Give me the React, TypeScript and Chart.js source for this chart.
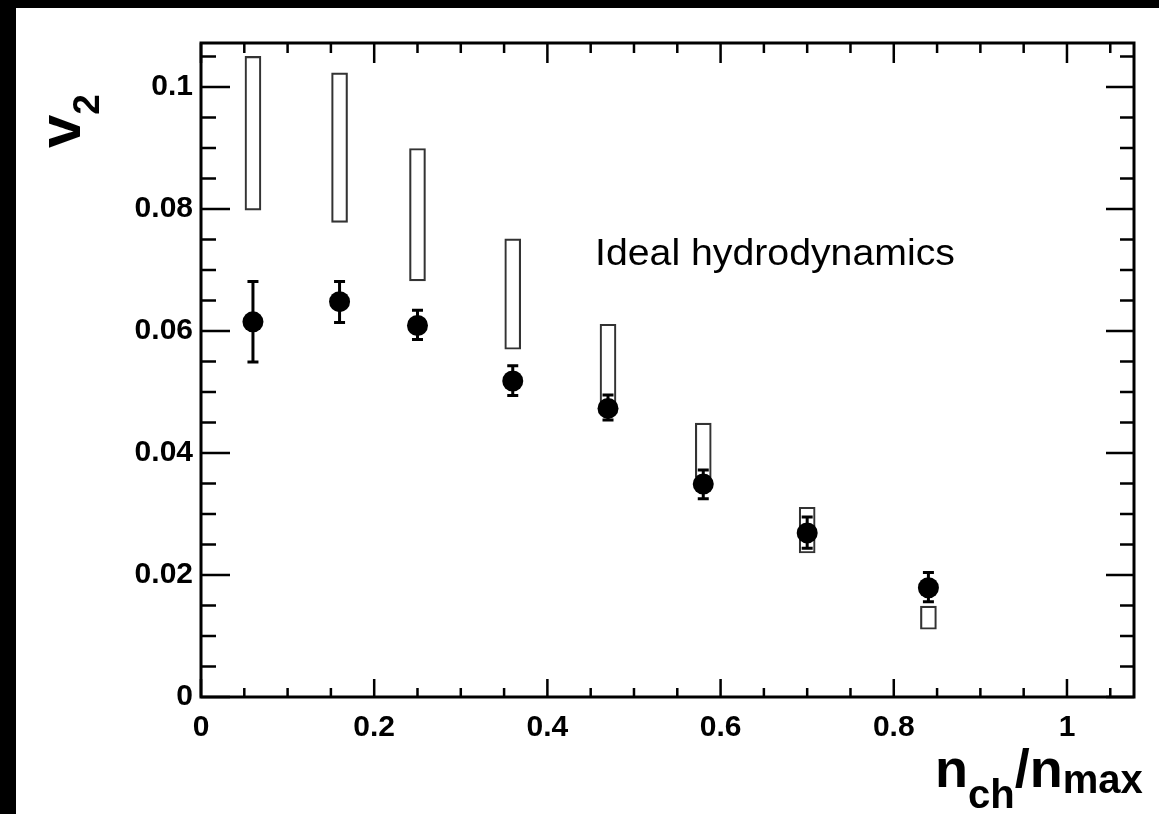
import React, { useEffect, useRef } from 'react';
import { Chart, registerables } from 'chart.js';

Chart.register(...registerables);

// ---- data ----
const nchOverNmax = [0.06, 0.16, 0.25, 0.36, 0.47, 0.58, 0.70, 0.84];
const v2Measured = [0.0615, 0.0648, 0.0609, 0.0518, 0.0473, 0.0349, 0.0269, 0.0179];
const v2ErrLow = [0.0549, 0.0614, 0.0586, 0.0494, 0.0454, 0.0325, 0.0244, 0.0156];
const v2ErrHigh = [0.0681, 0.0681, 0.0634, 0.0543, 0.0495, 0.0372, 0.0295, 0.0204];
const hydroLow = [0.0798, 0.0778, 0.0682, 0.0570, 0.0480, 0.0360, 0.0236, 0.0111];
const hydroHigh = [0.1050, 0.1023, 0.0899, 0.0751, 0.0611, 0.0449, 0.0311, 0.0149];

const xTickValues = [0, 0.2, 0.4, 0.6, 0.8, 1];
const xTickLabels = ['0', '0.2', '0.4', '0.6', '0.8', '1'];
const yTickValues = [0, 0.02, 0.04, 0.06, 0.08, 0.1];
const yTickLabels = ['0', '0.02', '0.04', '0.06', '0.08', '0.1'];
const xMinorStep = 0.05;
const yMinorStep = 0.005;
const xMax = 1.0774;
const yMax = 0.1072;

const annotationText = 'Ideal hydrodynamics';
const annotationX = 0.455;
const annotationY = 0.0708;

const tickFont = { family: '"Liberation Sans", Arial, sans-serif', size: 30, weight: 'bold' as const };

const backgroundPlugin = {
  id: 'pageBackground',
  beforeDraw(chart: any) {
    const { ctx, width, height } = chart;
    ctx.save();
    ctx.fillStyle = '#ffffff';
    ctx.fillRect(0, 0, width, height);
    ctx.fillStyle = '#000000';
    ctx.fillRect(0, 0, width, 8);
    ctx.fillRect(0, 0, 16, height);
    ctx.restore();
  },
};

const errorBarPlugin = {
  id: 'errorBars',
  afterDatasetsDraw(chart: any) {
    const { ctx, scales } = chart;
    const xs = scales.x;
    const ys = scales.y;
    ctx.save();
    ctx.strokeStyle = '#000';
    ctx.lineWidth = 3;
    nchOverNmax.forEach((xv, i) => {
      const px = xs.getPixelForValue(xv);
      const lo = ys.getPixelForValue(v2ErrLow[i]);
      const hi = ys.getPixelForValue(v2ErrHigh[i]);
      ctx.beginPath();
      ctx.moveTo(px, lo);
      ctx.lineTo(px, hi);
      ctx.moveTo(px - 5.5, lo);
      ctx.lineTo(px + 5.5, lo);
      ctx.moveTo(px - 5.5, hi);
      ctx.lineTo(px + 5.5, hi);
      ctx.stroke();
    });
    ctx.restore();
  },
};

const framePlugin = {
  id: 'rootFrame',
  afterDraw(chart: any) {
    const { ctx, chartArea, scales } = chart;
    const { left, right, top, bottom } = chartArea;
    const xs = scales.x;
    const ys = scales.y;
    ctx.save();
    ctx.strokeStyle = '#000';
    ctx.lineWidth = 2.5;
    ctx.beginPath();
    for (let i = 0; i * xMinorStep <= xMax + 1e-9; i++) {
      const v = i * xMinorStep;
      const px = xs.getPixelForValue(v);
      const major = i % 4 === 0;
      ctx.moveTo(px, bottom);
      ctx.lineTo(px, bottom - (major ? 18 : 9));
      ctx.moveTo(px, top);
      ctx.lineTo(px, top + (major ? 20 : 10));
    }
    for (let i = 0; i * yMinorStep <= yMax + 1e-9; i++) {
      const v = i * yMinorStep;
      const py = ys.getPixelForValue(v);
      const major = i % 4 === 0;
      ctx.moveTo(left, py);
      ctx.lineTo(left + (major ? 29 : 15), py);
      ctx.moveTo(right, py);
      ctx.lineTo(right - (major ? 28 : 14), py);
    }
    ctx.stroke();
    ctx.lineWidth = 3;
    ctx.strokeRect(left, top, right - left, bottom - top);

    // annotation
    ctx.fillStyle = '#000';
    ctx.textBaseline = 'alphabetic';
    ctx.textAlign = 'left';
    const ax = xs.getPixelForValue(annotationX);
    const ay = ys.getPixelForValue(annotationY);
    ctx.save();
    ctx.translate(ax, ay);
    ctx.scale(1.09, 1);
    ctx.font = '36px "Liberation Sans", Arial, sans-serif';
    ctx.fillText(annotationText, 0, 0);
    ctx.restore();

    // y title: v_2 (rotated)
    ctx.save();
    ctx.translate(80, 148);
    ctx.rotate(-Math.PI / 2);
    ctx.font = 'bold 60px "Liberation Sans", Arial, sans-serif';
    ctx.fillText('v', 0, 0);
    const vw = ctx.measureText('v').width;
    ctx.font = 'bold 37px "Liberation Sans", Arial, sans-serif';
    ctx.fillText('2', vw, 19);
    ctx.restore();

    // x title: n_ch / n_max
    const big = 'bold 54px "Liberation Sans", Arial, sans-serif';
    const small = 'bold 40px "Liberation Sans", Arial, sans-serif';
    let cx = 935;
    const parts: [string, string, number][] = [
      ['n', big, 787],
      ['ch', small, 808],
      ['/', big, 787],
      ['n', big, 787],
      ['max', small, 793],
    ];
    parts.forEach(([t, f, by]) => {
      ctx.font = f;
      ctx.fillText(t, cx, by);
      cx += ctx.measureText(t).width;
    });
    ctx.restore();
  },
};

export default function App() {
  const canvasRef = useRef<HTMLCanvasElement | null>(null);

  useEffect(() => {
    const canvas = canvasRef.current;
    if (!canvas) return;
    const chart = new Chart(canvas, {
      type: 'scatter',
      data: {
        datasets: [
          {
            type: 'bar',
            label: 'Ideal hydrodynamics',
            data: nchOverNmax.map((x, i) => ({ x, y: [hydroLow[i], hydroHigh[i]] })) as any,
            barThickness: 16,
            borderWidth: 1.5,
            borderColor: '#333333',
            backgroundColor: 'rgba(255,255,255,0)',
            borderSkipped: false,
            order: 2,
          } as any,
          {
            type: 'scatter',
            label: 'v2',
            data: nchOverNmax.map((x, i) => ({ x, y: v2Measured[i] })),
            pointRadius: 10.5,
            pointBackgroundColor: '#000',
            pointBorderColor: '#000',
            pointBorderWidth: 0,
            showLine: false,
            order: 1,
          } as any,
        ],
      },
      options: {
        animation: false,
        responsive: false,
        events: [],
        layout: { padding: { top: 43, right: 25, left: 0, bottom: 0 } },
        plugins: { legend: { display: false }, tooltip: { enabled: false } },
        scales: {
          x: {
            type: 'linear',
            min: 0,
            max: xMax,
            offset: false,
            grid: { display: false, drawTicks: false },
            border: { display: false },
            afterBuildTicks: (s: any) => {
              s.ticks = xTickValues.map((v) => ({ value: v }));
            },
            afterFit: (s: any) => {
              s.height = 117;
            },
            ticks: {
              padding: 13,
              color: '#000',
              font: tickFont,
              maxRotation: 0,
              autoSkip: false,
              callback: (value: any) => {
                const i = xTickValues.findIndex((t) => Math.abs(t - Number(value)) < 1e-9);
                return i >= 0 ? xTickLabels[i] : '';
              },
            },
          },
          y: {
            type: 'linear',
            min: 0,
            max: yMax,
            grid: { display: false, drawTicks: false },
            border: { display: false },
            afterBuildTicks: (s: any) => {
              s.ticks = yTickValues.map((v) => ({ value: v }));
            },
            afterFit: (s: any) => {
              s.width = 201;
            },
            ticks: {
              padding: 8,
              color: '#000',
              font: tickFont,
              autoSkip: false,
              callback: (value: any) => {
                const i = yTickValues.findIndex((t) => Math.abs(t - Number(value)) < 1e-9);
                return i >= 0 ? yTickLabels[i] : '';
              },
            },
          },
        },
      } as any,
      plugins: [backgroundPlugin, errorBarPlugin, framePlugin],
    });
    return () => chart.destroy();
  }, []);

  return (
    <div style={{ position: 'fixed', left: 0, top: 0, width: 1159, height: 814, background: '#fff' }}>
      <canvas ref={canvasRef} width={1159} height={814} style={{ display: 'block', width: 1159, height: 814 }} />
    </div>
  );
}
